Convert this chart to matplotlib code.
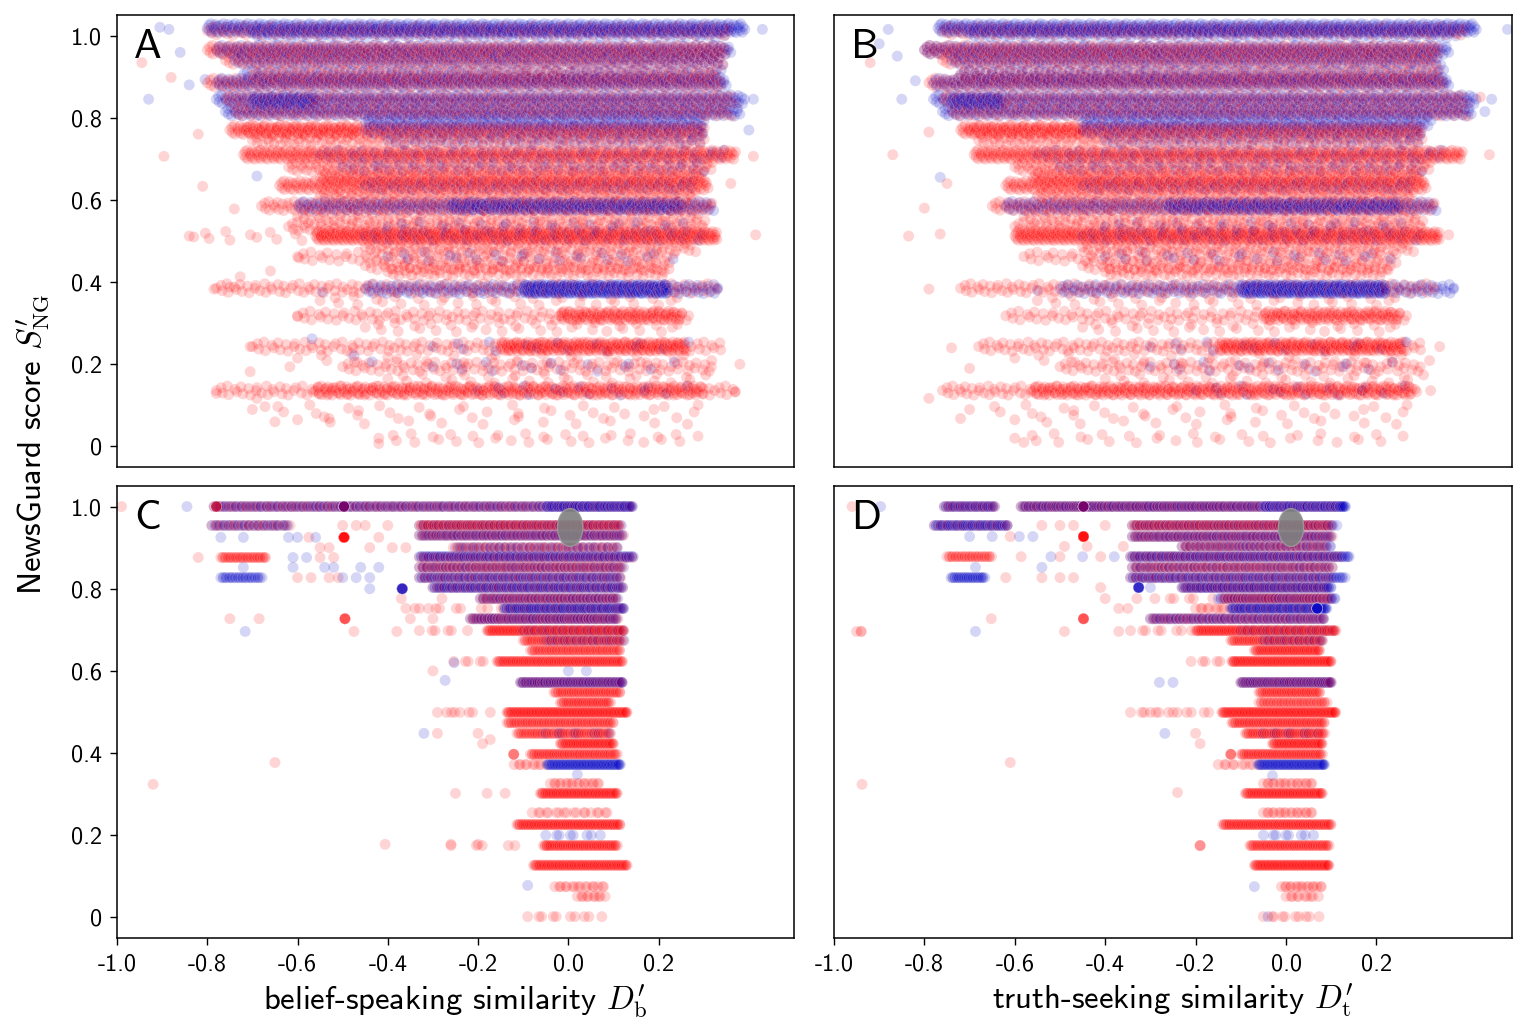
import numpy as np
import matplotlib
matplotlib.use("Agg")
import matplotlib.pyplot as plt
from matplotlib.patches import Ellipse

plt.rcParams['font.family'] = ['cmss10', 'DejaVu Sans']
plt.rcParams['mathtext.fontset'] = 'cm'
plt.rcParams['axes.unicode_minus'] = False

RED = '#ff0000'
BLUE = '#0808c8'

# ---------------- data: bands (y level, x start, x end, number of sites) ----------------
A_red = [
    (1.012, -0.80, 0.36, 200), (0.965, -0.80, 0.35, 320), (0.94, -0.76, 0.34, 220),
    (0.905, -0.70, 0.33, 180), (0.885, -0.80, 0.34, 260), (0.845, -0.76, 0.37, 220),
    (0.815, -0.74, 0.36, 220), (0.77, -0.75, 0.30, 340), (0.77, -0.72, -0.47, 40),
    (0.745, -0.70, 0.30, 160), (0.71, -0.72, 0.37, 420), (0.68, -0.62, 0.32, 180),
    (0.655, -0.55, 0.30, 240), (0.635, -0.64, 0.31, 300), (0.61, -0.55, 0.28, 140),
    (0.585, -0.68, 0.32, 200), (0.56, -0.60, 0.30, 110), (0.535, -0.62, 0.30, 150),
    (0.512, -0.56, 0.33, 460), (0.512, -0.84, -0.56, 12), (0.485, -0.45, 0.28, 110),
    (0.462, -0.60, 0.23, 90), (0.44, -0.45, 0.22, 90), (0.425, -0.40, 0.22, 90),
    (0.385, -0.78, 0.33, 150), (0.355, -0.55, 0.25, 35), (0.318, -0.60, 0.27, 100),
    (0.318, -0.02, 0.25, 90), (0.29, -0.45, 0.25, 35), (0.243, -0.70, 0.34, 130),
    (0.243, -0.15, 0.26, 170), (0.215, -0.60, 0.30, 25), (0.194, -0.50, 0.32, 100),
    (0.165, -0.40, 0.30, 30), (0.136, -0.78, 0.37, 150), (0.136, -0.56, 0.30, 230),
    (0.09, -0.70, 0.30, 26), (0.065, -0.60, 0.28, 22), (0.02, -0.42, 0.28, 32),
]
A_blue = [
    (1.018, -0.80, 0.39, 480), (1.005, -0.70, 0.35, 180), (0.965, -0.78, 0.36, 300),
    (0.94, -0.74, 0.34, 220), (0.905, -0.72, 0.34, 180), (0.885, -0.78, 0.35, 300),
    (0.845, -0.78, 0.39, 320), (0.84, -0.70, -0.56, 50), (0.815, -0.76, 0.38, 300),
    (0.79, -0.45, 0.30, 160), (0.77, -0.45, 0.30, 130), (0.745, -0.40, 0.30, 70),
    (0.71, -0.55, 0.35, 70), (0.68, -0.50, 0.30, 60), (0.635, -0.45, 0.28, 70),
    (0.585, -0.60, 0.32, 220), (0.585, -0.26, 0.25, 150), (0.535, -0.40, 0.25, 30),
    (0.512, -0.45, 0.30, 50), (0.462, -0.40, 0.22, 25), (0.383, -0.45, 0.33, 160),
    (0.383, -0.10, 0.22, 240), (0.243, -0.30, 0.25, 15), (0.194, -0.30, 0.22, 15),
    (0.136, -0.20, 0.25, 15),
]
A_red_single = [
    (-0.945, 0.934), (-0.896, 0.706), (-0.81, 0.633), (-0.74, 0.578), (-0.83, 0.51),
    (-0.88, 0.898), (-0.82, 0.76), (-0.785, 0.383), (-0.75, 0.388), (-0.727, 0.413),
    (-0.78, 0.129), (-0.705, 0.182), (-0.66, 0.427), (-0.597, 0.459), (-0.69, 0.117),
    (-0.672, 0.097), (-0.65, 0.06), (-0.60, 0.316), (-0.42, 0.007), (-0.617, 0.194),
    (-0.705, 0.243), (-0.53, 0.068), (0.415, 0.515), (0.41, 0.706), (0.37, 0.133),
    (0.38, 0.20), (0.36, 0.64),
]
A_blue_single = [
    (-0.93, 0.845), (-0.905, 1.02), (-0.885, 1.015), (-0.86, 0.959), (-0.84, 0.88),
    (-0.805, 0.893), (-0.69, 0.658), (-0.545, 0.376), (-0.568, 0.262), (-0.475, 0.221),
    (-0.435, 0.206), (0.43, 1.015), (0.41, 0.845), (0.40, 0.77), (0.33, 0.383),
]

B_red = [
    (1.012, -0.76, 0.40, 200), (0.965, -0.80, 0.34, 320), (0.94, -0.76, 0.33, 220),
    (0.905, -0.72, 0.34, 180), (0.885, -0.79, 0.35, 260), (0.845, -0.76, 0.40, 220),
    (0.815, -0.74, 0.40, 220), (0.77, -0.72, 0.30, 340), (0.77, -0.70, -0.45, 40),
    (0.745, -0.68, 0.30, 160), (0.71, -0.69, 0.39, 420), (0.68, -0.60, 0.32, 180),
    (0.655, -0.56, 0.30, 240), (0.635, -0.62, 0.31, 300), (0.61, -0.55, 0.28, 140),
    (0.585, -0.65, 0.33, 200), (0.56, -0.58, 0.30, 110), (0.535, -0.60, 0.30, 150),
    (0.512, -0.60, 0.34, 460), (0.485, -0.45, 0.28, 110), (0.462, -0.58, 0.24, 90),
    (0.44, -0.45, 0.24, 90), (0.425, -0.40, 0.22, 90), (0.385, -0.72, 0.33, 150),
    (0.355, -0.55, 0.25, 35), (0.318, -0.62, 0.27, 100), (0.318, -0.05, 0.25, 90),
    (0.29, -0.45, 0.25, 35), (0.243, -0.68, 0.30, 130), (0.243, -0.15, 0.26, 170),
    (0.215, -0.60, 0.30, 25), (0.194, -0.50, 0.30, 100), (0.165, -0.40, 0.30, 30),
    (0.136, -0.76, 0.29, 150), (0.136, -0.56, 0.28, 230), (0.09, -0.70, 0.28, 26),
    (0.065, -0.60, 0.26, 22), (0.02, -0.60, 0.25, 32),
]
B_blue = [
    (1.018, -0.77, 0.42, 480), (1.005, -0.70, 0.38, 180), (0.965, -0.80, 0.36, 300),
    (0.94, -0.74, 0.34, 220), (0.905, -0.72, 0.35, 180), (0.885, -0.78, 0.36, 300),
    (0.845, -0.78, 0.42, 320), (0.84, -0.74, -0.63, 50), (0.815, -0.76, 0.41, 300),
    (0.79, -0.45, 0.32, 160), (0.77, -0.45, 0.30, 130), (0.745, -0.40, 0.30, 70),
    (0.71, -0.55, 0.35, 70), (0.68, -0.50, 0.30, 60), (0.635, -0.45, 0.28, 70),
    (0.585, -0.62, 0.33, 220), (0.585, -0.26, 0.25, 150), (0.535, -0.40, 0.25, 30),
    (0.512, -0.45, 0.30, 50), (0.462, -0.40, 0.22, 25), (0.383, -0.50, 0.37, 160),
    (0.383, -0.10, 0.22, 240), (0.243, -0.30, 0.25, 15), (0.194, -0.30, 0.22, 15),
    (0.136, -0.20, 0.25, 15),
]
B_red_single = [
    (-0.92, 0.934), (-0.87, 0.71), (-0.79, 0.765), (-0.765, 0.517), (-0.79, 0.383),
    (-0.835, 0.512), (-0.79, 0.117), (-0.72, 0.068), (-0.80, 0.58), (-0.75, 0.64),
    (-0.74, 0.24), (-0.70, 0.19), (-0.58, 0.01), (0.45, 0.71), (0.36, 0.515),
    (0.34, 0.243), (0.32, 0.136), (0.43, 0.85),
]
B_blue_single = [
    (-0.85, 0.845), (-0.90, 0.98), (-0.765, 0.655), (-0.88, 1.015), (-0.86, 0.95),
    (-0.82, 0.89), (0.49, 1.015), (0.455, 0.845), (0.44, 0.815), (0.37, 0.383),
    (-0.55, 0.38),
]

C_red = [
    (1.0, -0.785, 0.14, 150), (0.954, -0.79, -0.62, 25), (0.954, -0.33, 0.115, 170),
    (0.93, -0.33, 0.12, 90), (0.90, -0.255, 0.108, 60), (0.876, -0.77, -0.67, 35),
    (0.876, -0.33, 0.14, 80), (0.852, -0.33, 0.12, 100), (0.827, -0.33, 0.115, 60),
    (0.803, -0.30, 0.12, 60), (0.776, -0.195, 0.108, 70), (0.752, -0.33, -0.15, 8),
    (0.752, -0.143, 0.123, 35), (0.727, -0.217, 0.108, 80), (0.698, -0.18, 0.123, 170),
    (0.698, -0.33, -0.23, 6), (0.674, -0.10, 0.12, 80), (0.65, -0.084, 0.115, 70),
    (0.623, -0.158, 0.12, 130), (0.623, -0.254, -0.18, 5), (0.572, -0.106, 0.12, 70),
    (0.548, -0.032, 0.115, 55), (0.523, -0.018, 0.093, 45), (0.499, -0.136, 0.13, 170),
    (0.499, -0.29, -0.18, 6), (0.474, -0.136, 0.10, 85), (0.448, -0.114, 0.093, 75),
    (0.423, -0.018, 0.10, 65), (0.397, -0.084, 0.108, 75), (0.372, -0.12, -0.05, 10),
    (0.326, -0.04, 0.07, 18), (0.302, -0.062, 0.108, 95), (0.255, -0.08, 0.09, 18),
    (0.226, -0.114, 0.115, 115), (0.175, -0.055, 0.108, 75), (0.175, -0.26, -0.06, 6),
    (0.127, -0.077, 0.13, 105), (0.075, -0.03, 0.08, 16), (0.051, 0.02, 0.08, 10),
    (0.002, -0.09, 0.07, 10),
]
C_blue = [
    (1.0, -0.785, 0.14, 220), (1.0, -0.05, 0.14, 90), (0.954, -0.79, -0.62, 35),
    (0.954, -0.33, 0.115, 80), (0.93, -0.33, 0.12, 120), (0.90, -0.25, 0.11, 55),
    (0.878, -0.33, 0.144, 170), (0.852, -0.33, 0.12, 90), (0.827, -0.77, -0.68, 28),
    (0.827, -0.33, 0.115, 130), (0.803, -0.30, 0.12, 160), (0.776, -0.195, 0.108, 80),
    (0.752, -0.143, 0.123, 130), (0.727, -0.217, 0.108, 100), (0.698, -0.10, 0.12, 30),
    (0.674, -0.05, 0.12, 25), (0.572, -0.106, 0.12, 120), (0.372, -0.047, 0.115, 110),
    (0.448, -0.05, 0.09, 8), (0.20, -0.05, 0.07, 8),
]
C_red_single = [
    (-0.99, 1.0), (-0.82, 0.876), (-0.575, 0.925), (-0.55, 0.90), (-0.53, 0.90),
    (-0.44, 0.90), (-0.39, 0.90), (-0.36, 0.90), (-0.50, 0.954), (-0.47, 0.954),
    (-0.45, 0.954), (-0.40, 0.954), (-0.55, 0.876), (-0.52, 0.876), (-0.60, 0.827),
    (-0.57, 0.827), (-0.53, 0.827), (-0.51, 0.827), (-0.37, 0.776), (-0.28, 0.776),
    (-0.36, 0.752), (-0.34, 0.752), (-0.31, 0.752), (-0.685, 0.727), (-0.35, 0.727),
    (-0.30, 0.727), (-0.475, 0.696), (-0.38, 0.696), (-0.92, 0.324), (-0.65, 0.377),
    (-0.406, 0.178), (-0.26, 0.178), (-0.20, 0.178), (-0.173, 0.433), (-0.27, 0.499),
    (-0.24, 0.499), (-0.29, 0.448), (-0.20, 0.448), (-0.19, 0.423), (-0.25, 0.302),
    (-0.18, 0.302), (-0.14, 0.302), (-0.75, 0.727), (-0.42, 0.925), (-0.30, 0.60),
]
C_blue_single = [
    (-0.845, 1.0), (-0.77, 0.925), (-0.72, 0.925), (-0.62, 0.925), (-0.60, 0.925),
    (-0.56, 0.925), (-0.61, 0.876), (-0.58, 0.876), (-0.72, 0.852), (-0.61, 0.852),
    (-0.54, 0.852), (-0.52, 0.852), (-0.46, 0.852), (-0.42, 0.852), (-0.50, 0.827),
    (-0.47, 0.827), (-0.44, 0.827), (-0.44, 0.80), (-0.716, 0.696), (-0.253, 0.62),
    (-0.273, 0.577), (-0.32, 0.448), (-0.09, 0.078), (0.02, 0.348), (0.0, 0.60),
    (0.04, 0.60), (0.13, 0.876),
]
# piles of sites sharing one position: (x, y, red count, blue count)
C_piles = [(-0.497, 1.0, 8, 8), (-0.497, 0.925, 14, 0), (-0.368, 0.80, 2, 9),
           (-0.495, 0.727, 6, 0), (-0.121, 0.397, 4, 0), (-0.78, 1.0, 5, 2)]

D_red = [
    (1.0, -0.756, -0.645, 20), (1.0, -0.586, 0.12, 150), (0.954, -0.778, -0.616, 20),
    (0.954, -0.34, 0.10, 150), (0.927, -0.34, 0.10, 90), (0.903, -0.23, 0.09, 60),
    (0.878, -0.75, -0.652, 30), (0.878, -0.344, 0.12, 80), (0.852, -0.34, 0.10, 90),
    (0.827, -0.344, 0.10, 60), (0.803, -0.23, 0.09, 60), (0.776, -0.14, 0.10, 70),
    (0.776, -0.29, -0.17, 6), (0.752, -0.20, 0.08, 35), (0.727, -0.30, 0.085, 70),
    (0.698, -0.20, 0.11, 160), (0.698, -0.344, -0.21, 8), (0.674, -0.122, 0.08, 80),
    (0.65, -0.07, 0.075, 70), (0.623, -0.12, 0.10, 130), (0.623, -0.21, -0.12, 6),
    (0.572, -0.10, 0.10, 70), (0.548, -0.06, 0.075, 55), (0.523, -0.06, 0.09, 45),
    (0.499, -0.14, 0.11, 170), (0.499, -0.344, -0.15, 12), (0.474, -0.12, 0.085, 85),
    (0.448, -0.09, 0.085, 75), (0.423, -0.03, 0.08, 65), (0.397, -0.10, 0.08, 75),
    (0.372, -0.15, -0.06, 10), (0.326, -0.05, 0.06, 18), (0.302, -0.09, 0.08, 95),
    (0.255, -0.05, 0.06, 18), (0.226, -0.14, 0.10, 115), (0.175, -0.08, 0.095, 75),
    (0.127, -0.07, 0.095, 105), (0.075, -0.01, 0.08, 16), (0.051, 0.0, 0.07, 10),
    (0.002, -0.05, 0.07, 10),
]
D_blue = [
    (1.0, -0.756, -0.645, 45), (1.0, -0.586, 0.13, 240), (1.0, -0.05, 0.13, 90),
    (0.954, -0.778, -0.616, 65), (0.954, -0.34, 0.11, 90), (0.927, -0.34, 0.10, 120),
    (0.903, -0.23, 0.10, 65), (0.878, -0.344, 0.14, 170), (0.852, -0.34, 0.10, 80),
    (0.827, -0.741, -0.667, 32), (0.827, -0.344, 0.13, 140), (0.803, -0.23, 0.10, 150),
    (0.776, -0.15, 0.11, 70), (0.752, -0.122, 0.09, 140), (0.727, -0.30, 0.085, 100),
    (0.698, -0.10, 0.10, 25), (0.674, -0.05, 0.08, 20), (0.572, -0.10, 0.10, 110),
    (0.372, -0.062, 0.085, 110), (0.448, -0.05, 0.07, 8), (0.20, -0.05, 0.06, 8),
]
D_red_single = [
    (-0.96, 1.0), (-0.50, 0.954), (-0.47, 0.954), (-0.54, 0.954), (-0.40, 0.954),
    (-0.61, 0.927), (-0.49, 0.903), (-0.44, 0.903), (-0.36, 0.903), (-0.586, 0.878),
    (-0.50, 0.878), (-0.41, 0.878), (-0.62, 0.827), (-0.54, 0.827), (-0.50, 0.827),
    (-0.47, 0.827), (-0.41, 0.803), (-0.37, 0.752), (-0.35, 0.752), (-0.652, 0.727),
    (-0.95, 0.696), (-0.49, 0.696), (-0.37, 0.696), (-0.61, 0.377), (-0.938, 0.324),
    (-0.24, 0.304), (-0.20, 0.448), (-0.19, 0.423), (-0.30, 0.499), (-0.26, 0.499),
    (-0.40, 0.776), (-0.33, 0.776),
]
D_blue_single = [
    (-0.897, 1.0), (-0.70, 0.927), (-0.65, 0.927), (-0.59, 0.927), (-0.56, 0.927),
    (-0.687, 0.852), (-0.54, 0.852), (-0.52, 0.878), (-0.45, 0.878), (-0.38, 0.878),
    (-0.687, 0.696), (-0.268, 0.448), (-0.30, 0.803), (-0.28, 0.572), (-0.25, 0.572),
    (-0.03, 0.345), (-0.07, 0.075), (-0.04, 0.002),
]
D_piles = [(-0.448, 1.0, 8, 8), (-0.448, 0.927, 14, 0), (-0.448, 0.727, 6, 0),
           (-0.326, 0.803, 1, 9), (0.069, 0.752, 0, 12), (-0.122, 0.397, 4, 0),
           (-0.94, 0.696, 2, 0), (-0.19, 0.175, 3, 0)]

# within-band spread of sites (x: fraction of the spacing, y: score offset for A/B)
X_SPREAD = [0.0, 0.41, -0.27, 0.18, -0.46, 0.33, -0.12, 0.05, -0.38, 0.24, -0.19, 0.47, -0.31]
Y_SPREAD_AB = [0.0, 0.007, -0.006, 0.011, -0.010, 0.003, -0.003, 0.009, -0.008, 0.005, -0.011]
Y_SPREAD_CD = [0.0]

# grey ellipse (centre x, centre y, width, height) in panels C and D
C_ellipse = (0.004, 0.949, 0.056, 0.092)
D_ellipse = (0.011, 0.949, 0.056, 0.092)

xtick_vals = [-1.0, -0.8, -0.6, -0.4, -0.2, 0.0, 0.2]
xtick_labels = ['-1.0', '-0.8', '-0.6', '-0.4', '-0.2', '0.0', '0.2']
ytick_vals = [0, 0.2, 0.4, 0.6, 0.8, 1.0]
ytick_labels = ['0', '0.2', '0.4', '0.6', '0.8', '1.0']


def collect(red_segs, blue_segs, red_single, blue_single, yspread, piles=()):
    xs, ys, cs = [], [], []
    nx, ny = len(X_SPREAD), len(yspread)
    for segs, col in ((red_segs, RED), (blue_segs, BLUE)):
        for y, x0, x1, n in segs:
            xv = np.linspace(x0, x1, n)
            step = (x1 - x0) / max(n - 1, 1)
            for k in range(n):
                xs.append(xv[k] + step * X_SPREAD[k % nx])
                ys.append(y + yspread[k % ny])
                cs.append(col)
    for pts, col in ((red_single, RED), (blue_single, BLUE)):
        for x, y in pts:
            xs.append(x); ys.append(y); cs.append(col)
    order = np.argsort(np.array(xs), kind='mergesort')
    xs = list(np.array(xs)[order]); ys = list(np.array(ys)[order]); cs = list(np.array(cs)[order])
    for x, y, nr, nb in piles:
        for k in range(max(nr, nb)):
            if k < nr:
                xs.append(x); ys.append(y); cs.append(RED)
            if k < nb:
                xs.append(x); ys.append(y); cs.append(BLUE)
    return np.array(xs), np.array(ys), cs


W, H = 1526, 1033
fig = plt.figure(figsize=(W / 100, H / 100), dpi=100)

def frac(l, t, r, b):
    return [l / W, 1 - b / H, (r - l) / W, (b - t) / H]

axA = fig.add_axes(frac(117, 15, 794, 467))
axB = fig.add_axes(frac(834, 15, 1512, 467))
axC = fig.add_axes(frac(117, 486, 794, 938))
axD = fig.add_axes(frac(834, 486, 1512, 938))

panels = [
    (axA, 'A', collect(A_red, A_blue, A_red_single, A_blue_single, Y_SPREAD_AB), None),
    (axB, 'B', collect(B_red, B_blue, B_red_single, B_blue_single, Y_SPREAD_AB), None),
    (axC, 'C', collect(C_red, C_blue, C_red_single, C_blue_single, Y_SPREAD_CD, C_piles), C_ellipse),
    (axD, 'D', collect(D_red, D_blue, D_red_single, D_blue_single, Y_SPREAD_CD, D_piles), D_ellipse),
]

for ax, letter, (xs, ys, cs), ell in panels:
    ax.scatter(xs, ys, s=62, c=cs, alpha=0.17, edgecolors='white', linewidths=0.4)
    if ell is not None:
        ax.add_patch(Ellipse((ell[0], ell[1]), ell[2], ell[3], facecolor='#7f7f7f',
                             edgecolor='#9a9a9a', linewidth=1.0, alpha=0.9, zorder=5))
    ax.set_xlim(-1.0, 0.5)
    ax.set_ylim(-0.05, 1.05)
    ax.text(0.025, 0.905, letter, transform=ax.transAxes, fontsize=30,
            ha='left', va='baseline')
    for sp in ax.spines.values():
        sp.set_linewidth(1.1)
    ax.tick_params(axis='both', labelsize=17.5, length=5, width=1.0, pad=6)

for ax in (axA, axC):
    ax.set_yticks(ytick_vals)
    ax.set_yticklabels(ytick_labels)
for ax in (axB, axD):
    ax.set_yticks([])
for ax in (axC, axD):
    ax.set_xticks(xtick_vals)
    ax.set_xticklabels(xtick_labels)
for ax in (axA, axB):
    ax.set_xticks([])

axC.set_xlabel(r"belief-speaking similarity $D^{\prime}_{\mathrm{b}}$", fontsize=23.5, labelpad=5)
axD.set_xlabel(r"truth-seeking similarity $D^{\prime}_{\mathrm{t}}$", fontsize=23.5, labelpad=5)
fig.text(33 / W, 1 - 444 / H, r"NewsGuard score $S^{\prime}_{\mathrm{NG}}$", rotation=90,
         fontsize=23.5, ha='center', va='center')

fig.savefig('out.png', dpi=100)
